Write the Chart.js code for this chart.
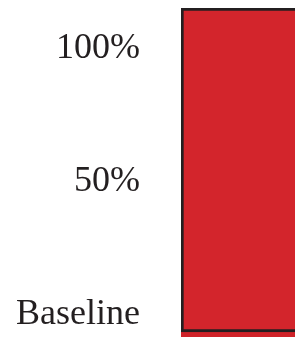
<!DOCTYPE html>
<html>
<head>
<meta charset="utf-8">
<script src="https://cdn.jsdelivr.net/npm/chart.js@4"></script>
<style>
  html, body { margin: 0; padding: 0; background: #fff; }
  #wrap { width: 295px; height: 337px; }
</style>
</head>
<body>
<div id="wrap"><canvas id="chart"></canvas></div>
<script>
/* Data */
var categories = [''];
var stripStart = [-8.3];
var barStart = [-6.4];
var barEnd = [115.4];
var tickValues = [0, 50, 100];
var tickLabels = ['Baseline', '50%', '100%'];

var ctx = document.getElementById('chart');

var chart = new Chart(ctx, {
    type: 'bar',
    data: {
        labels: categories,
        datasets: [
            {
                // main bar with dark outline
                data: barStart.map(function (s, i) { return [s, barEnd[i]]; }),
                backgroundColor: '#D3252C',
                borderColor: '#231F20',
                borderWidth: { left: 3, top: 3, bottom: 3, right: 0 },
                borderSkipped: false,
                barPercentage: 1,
                categoryPercentage: 1,
                grouped: false,
                order: 1
            },
            {
                // red strip under the bar
                data: stripStart.map(function (s, i) { return [s, barStart[i]]; }),
                backgroundColor: '#CF2329',
                borderWidth: 0,
                barPercentage: 1,
                categoryPercentage: 1,
                grouped: false,
                order: 2
            }
        ]
    },
    options: {
        responsive: true,
        maintainAspectRatio: false,
        animation: false,
        layout: { padding: { left: 15, top: 8, right: 0, bottom: 0 } },
        plugins: {
            legend: { display: false },
            tooltip: { enabled: false }
        },
        scales: {
            x: {
                display: false
            },
            y: {
                min: stripStart[0],
                max: barEnd[0],
                afterBuildTicks: function (scale) {
                    scale.ticks = tickValues.map(function (v) { return { value: v }; });
                },
                afterFit: function (scale) {
                    scale.width = 166;
                    scale.paddingTop = 0;
                    scale.paddingBottom = 0;
                },
                grid: { display: false, drawTicks: false },
                border: { display: false },
                ticks: {
                    padding: 41,
                    color: '#231F20',
                    font: { family: 'Liberation Serif', size: 36 },
                    callback: function (value) {
                        var i = tickValues.indexOf(value);
                        return i >= 0 ? tickLabels[i] : '';
                    }
                }
            }
        }
    }
});
</script>
</body>
</html>
